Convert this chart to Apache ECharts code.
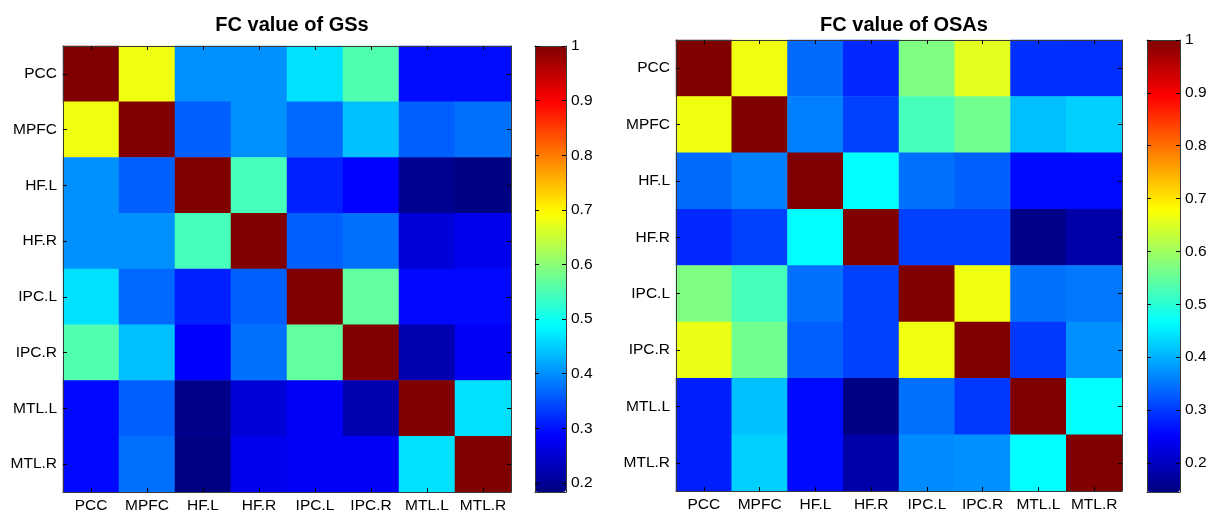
<!DOCTYPE html>
<html>
<head>
<meta charset="utf-8">
<script src="https://cdn.jsdelivr.net/npm/echarts@6/dist/echarts.min.js"></script>
<style>
  html, body { margin: 0; padding: 0; background: #fff; }
  #chart { width: 1210px; height: 514px; }
</style>
</head>
<body>
<div id="chart"></div>
<script>
// ---- data ----
const categories = ['PCC', 'MPFC', 'HF.L', 'HF.R', 'IPC.L', 'IPC.R', 'MTL.L', 'MTL.R'];

const titleGS = 'FC value of GSs';
const titleOSA = 'FC value of OSAs';

// rows top->bottom, columns left->right
const gsValues = [
  [1.000, 0.682, 0.401, 0.401, 0.465, 0.553, 0.295, 0.295],
  [0.682, 1.000, 0.362, 0.401, 0.369, 0.439, 0.362, 0.375],
  [0.401, 0.362, 1.000, 0.545, 0.311, 0.286, 0.197, 0.186],
  [0.401, 0.401, 0.545, 1.000, 0.362, 0.375, 0.255, 0.273],
  [0.465, 0.369, 0.311, 0.362, 1.000, 0.567, 0.292, 0.292],
  [0.555, 0.439, 0.285, 0.375, 0.567, 1.000, 0.222, 0.280],
  [0.292, 0.362, 0.192, 0.255, 0.280, 0.222, 1.000, 0.465],
  [0.292, 0.375, 0.186, 0.273, 0.280, 0.280, 0.465, 1.000]
];

const osaValues = [
  [1.000, 0.667, 0.340, 0.285, 0.572, 0.655, 0.292, 0.290],
  [0.667, 1.000, 0.359, 0.305, 0.524, 0.560, 0.413, 0.426],
  [0.340, 0.359, 1.000, 0.466, 0.346, 0.332, 0.259, 0.259],
  [0.285, 0.305, 0.466, 1.000, 0.305, 0.305, 0.152, 0.179],
  [0.572, 0.524, 0.346, 0.305, 1.000, 0.667, 0.346, 0.353],
  [0.662, 0.560, 0.332, 0.305, 0.667, 1.000, 0.299, 0.372],
  [0.278, 0.413, 0.259, 0.148, 0.346, 0.299, 1.000, 0.466],
  [0.278, 0.426, 0.259, 0.179, 0.367, 0.372, 0.466, 1.000]
];

const gsRange = [0.1835, 1];
const osaRange = [0.145, 1];
const colorbarTicks = [0.2, 0.3, 0.4, 0.5, 0.6, 0.7, 0.8, 0.9, 1];
const colorbarTickLabels = ['0.2', '0.3', '0.4', '0.5', '0.6', '0.7', '0.8', '0.9', '1'];

// MATLAB "jet" colormap stops
const jet = ['#000080', '#0000ff', '#0080ff', '#00ffff', '#80ff80', '#ffff00', '#ff8000', '#ff0000', '#800000'];

// ---- build ----
function toCells(m) {
  const out = [];
  m.forEach((row, r) => row.forEach((v, c) => out.push([c, r, v])));
  return out;
}

const FONT = "'Liberation Sans', Arial, sans-serif";
const TXT = '#000';
const LINE = '#3a3a3a';
const LABEL_SIZE = 15.5;

const layout = [
  { grid: { left: 63, top: 46, width: 448, height: 446 }, bar: { left: 535, top: 46, width: 31, height: 446 }, title: titleGS, range: gsRange, values: gsValues },
  { grid: { left: 676, top: 40, width: 446, height: 451 }, bar: { left: 1147, top: 40, width: 33, height: 452 }, title: titleOSA, range: osaRange, values: osaValues }
];

const grids = [], xAxes = [], yAxes = [], series = [], visualMaps = [], titles = [];

layout.forEach((p, i) => {
  const gi = grids.length;
  grids.push(Object.assign({ containLabel: false, show: false }, p.grid));
  titles.push({
    text: p.title,
    left: p.grid.left + p.grid.width / 2,
    top: 10,
    textAlign: 'center',
    textStyle: { fontFamily: FONT, fontSize: 20, fontWeight: 'bold', color: TXT }
  });
  const catX = (pos, showLabel) => ({
    type: 'category', gridIndex: gi, data: categories, position: pos, z: 10,
    axisLine: { show: true, onZero: false, lineStyle: { color: LINE, width: 1 } },
    axisTick: { show: true, inside: true, alignWithLabel: true, interval: 0, length: 4, lineStyle: { color: '#000' } },
    axisLabel: { show: showLabel, interval: 0, fontFamily: FONT, fontSize: LABEL_SIZE, color: TXT, margin: 6 },
    splitLine: { show: false }, splitArea: { show: false }
  });
  const catY = (pos, showLabel) => ({
    type: 'category', gridIndex: gi, data: categories, position: pos, inverse: true, z: 10,
    axisLine: { show: true, onZero: false, lineStyle: { color: LINE, width: 1 } },
    axisTick: { show: true, inside: true, alignWithLabel: true, interval: 0, length: 4, lineStyle: { color: '#000' } },
    axisLabel: { show: showLabel, interval: 0, fontFamily: FONT, fontSize: LABEL_SIZE, color: TXT, margin: 6 },
    splitLine: { show: false }, splitArea: { show: false }
  });
  const xi = xAxes.length, yi = yAxes.length;
  xAxes.push(catX('bottom', true), catX('top', false));
  yAxes.push(catY('left', true), catY('right', false));

  const si = series.length;
  series.push({
    type: 'heatmap', xAxisIndex: xi, yAxisIndex: yi,
    data: toCells(p.values),
    itemStyle: { borderWidth: 0 },
    emphasis: { disabled: true }
  });

  visualMaps.push({
    type: 'continuous', seriesIndex: si, min: p.range[0], max: p.range[1],
    calculable: false, hoverLink: false, show: true,
    orient: 'vertical', left: p.bar.left, top: p.bar.top,
    itemWidth: p.bar.width, itemHeight: p.bar.height, padding: 0,
    inRange: { color: jet },
    textStyle: { color: 'transparent' }
  });

  // colorbar frame + ticks
  const bg = grids.length;
  grids.push(Object.assign({ show: false }, p.bar));
  const valX = (pos) => ({
    type: 'value', gridIndex: bg, position: pos, min: 0, max: 1, z: 10,
    axisLine: { show: true, onZero: false, lineStyle: { color: LINE } },
    axisTick: { show: false }, axisLabel: { show: false }, splitLine: { show: false }
  });
  const valY = (pos, showLabel) => ({
    type: 'value', gridIndex: bg, position: pos, min: p.range[0], max: p.range[1], z: 10,
    axisLine: { show: true, onZero: false, lineStyle: { color: LINE } },
    axisTick: { show: true, inside: true, length: 4, customValues: colorbarTicks, lineStyle: { color: '#000' } },
    axisLabel: {
      show: showLabel, customValues: colorbarTicks, fontFamily: FONT, fontSize: LABEL_SIZE, color: TXT, margin: 5,
      formatter: (v) => colorbarTickLabels[colorbarTicks.findIndex(t => Math.abs(t - v) < 1e-6)] || ''
    },
    splitLine: { show: false }
  });
  xAxes.push(valX('bottom'), valX('top'));
  yAxes.push(valY('right', true), valY('left', false));
});

const chart = echarts.init(document.getElementById('chart'), null, { renderer: 'canvas' });
chart.setOption({
  backgroundColor: '#fff',
  animation: false,
  title: titles,
  grid: grids,
  xAxis: xAxes,
  yAxis: yAxes,
  visualMap: visualMaps,
  series: series
});
</script>
</body>
</html>
